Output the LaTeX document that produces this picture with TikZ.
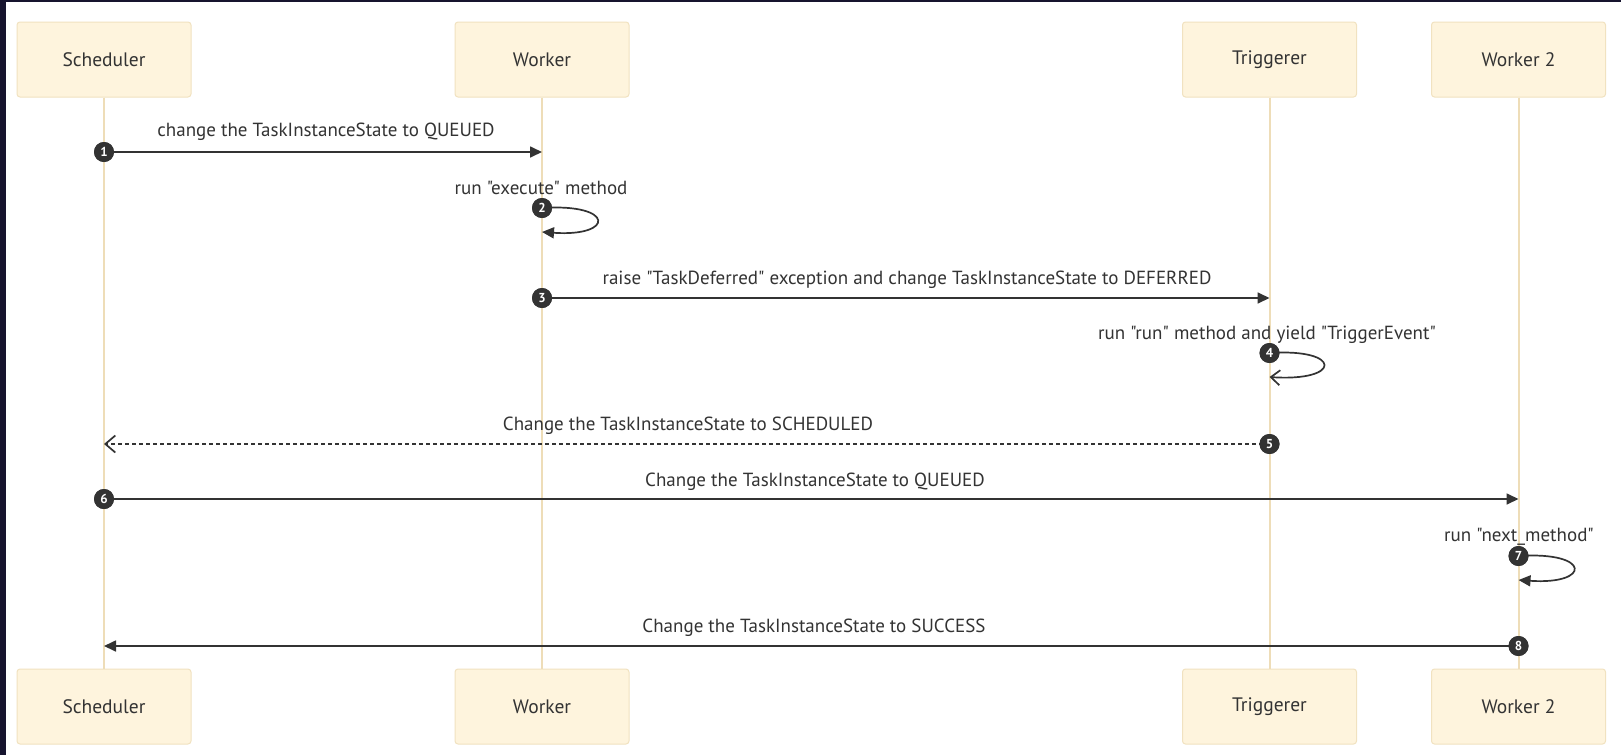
\documentclass[tikz,border=0pt]{standalone}
\usepackage{fontspec}
\setmainfont{PT Sans}[Ligatures=TeXOff]
\usetikzlibrary{arrows.meta}

\definecolor{framecol}{HTML}{16142E}
\definecolor{actorfill}{HTML}{FEF4DD}
\definecolor{actordraw}{HTML}{F1E2C0}
\definecolor{lifecol}{HTML}{EEDDB8}
\definecolor{ink}{HTML}{333333}

\begin{document}
\begin{tikzpicture}[x=1pt,y=-1pt,
  actor/.style={draw=actordraw, fill=actorfill, rounded corners=3pt,
    minimum width=174pt, minimum height=75pt, line width=1pt, text=ink,
    font=\fontsize{19.5}{22}\selectfont, inner sep=0pt},
  life/.style={draw=lifecol, line width=2pt},
  seqnum/.style={circle, fill=ink, text=white, inner sep=0pt, minimum size=20pt,
    font=\fontsize{13}{14}\selectfont\bfseries},
  msg/.style={draw=ink, line width=1.7pt, -{Triangle[length=12pt,width=11pt]}},
  reply/.style={draw=ink, line width=1.7pt, dash pattern=on 4pt off 3pt,
    -{Straight Barb[length=10pt,width=17pt,line width=1.7pt]}},
  selfbarb/.style={draw=ink, line width=1.7pt,
    -{Straight Barb[length=9pt,width=15pt,line width=1.7pt]}},
  lbl/.style={text=ink, font=\fontsize{19}{22}\selectfont, inner sep=0pt, anchor=base}
]
% page frame
\useasboundingbox (0,0) rectangle (1621,755);
\fill[framecol] (0,0) rectangle (1621,755);
\fill[white] (6,2) rectangle (1621,755);

% participants, top and bottom
\node[actor] (schedT) at (104,59.5)   {Scheduler};
\node[actor] (workT)  at (542,59.5)   {Worker};
\node[actor] (trigT)  at (1269.5,59.5){Triggerer};
\node[actor] (work2T) at (1518.5,59.5){Worker 2};
\node[actor] (schedB) at (104,706.5)   {Scheduler};
\node[actor] (workB)  at (542,706.5)   {Worker};
\node[actor] (trigB)  at (1269.5,706.5){Triggerer};
\node[actor] (work2B) at (1518.5,706.5){Worker 2};

% lifelines
\draw[life] (schedT.south) -- (schedB.north);
\draw[life] (workT.south)  -- (workB.north);
\draw[life] (trigT.south)  -- (trigB.north);
\draw[life] (work2T.south) -- (work2B.north);

% message end points on the lifelines
\coordinate (m1) at (542,152);
\coordinate (m2) at (542,232);
\coordinate (m3) at (1269.5,298);
\coordinate (m4) at (1269.5,377);
\coordinate (m5) at (104,444);
\coordinate (m6) at (1518.5,499);
\coordinate (m7) at (1518.5,580);
\coordinate (m8) at (104,646);

% sequence number badges
\node[seqnum] (n1) at (104,152)    {1};
\node[seqnum] (n2) at (542,208)    {2};
\node[seqnum] (n3) at (542,298)    {3};
\node[seqnum] (n4) at (1269.5,353) {4};
\node[seqnum] (n5) at (1269.5,444) {5};
\node[seqnum] (n6) at (104,499)    {6};
\node[seqnum] (n7) at (1518.5,556) {7};
\node[seqnum] (n8) at (1518.5,646) {8};

% messages
\draw[msg] (n1.center) -- (m1);
\draw[msg] (n2.center) .. controls ++(73,-5) and ++(73,5) .. (m2);
\draw[msg] (n3.center) -- (m3);
\draw[selfbarb] (n4.center) .. controls ++(73,-5) and ++(73,5) .. (m4);
\draw[reply] (n5.center) -- (m5);
\draw[msg] (n6.center) -- (m6);
\draw[msg] (n7.center) .. controls ++(73,-5) and ++(73,5) .. (m7);
\draw[msg] (n8.center) -- (m8);

% badges on top of the lines
\foreach \n/\t in {n1/1,n2/2,n3/3,n4/4,n5/5,n6/6,n7/7,n8/8}
  \node[seqnum] at (\n) {\t};

% message labels
\node[lbl] (l1) at (326,136)    {change the TaskInstanceState to QUEUED};
\node[lbl] (l2) at (541,194)    {run "execute" method};
\node[lbl] (l3) at (907,284)    {raise "TaskDeferred" exception and change TaskInstanceState to DEFERRED};
\node[lbl] (l4) at (1267,339)   {run "run" method and yield "TriggerEvent"};
\node[lbl] (l5) at (688,430)    {Change the TaskInstanceState to SCHEDULED};
\node[lbl] (l6) at (815,486)    {Change the TaskInstanceState to QUEUED};
\node[lbl] (l7) at (1519,541)   {run "next\_method"};
\node[lbl] (l8) at (814,632)    {Change the TaskInstanceState to SUCCESS};
\end{tikzpicture}
\end{document}
